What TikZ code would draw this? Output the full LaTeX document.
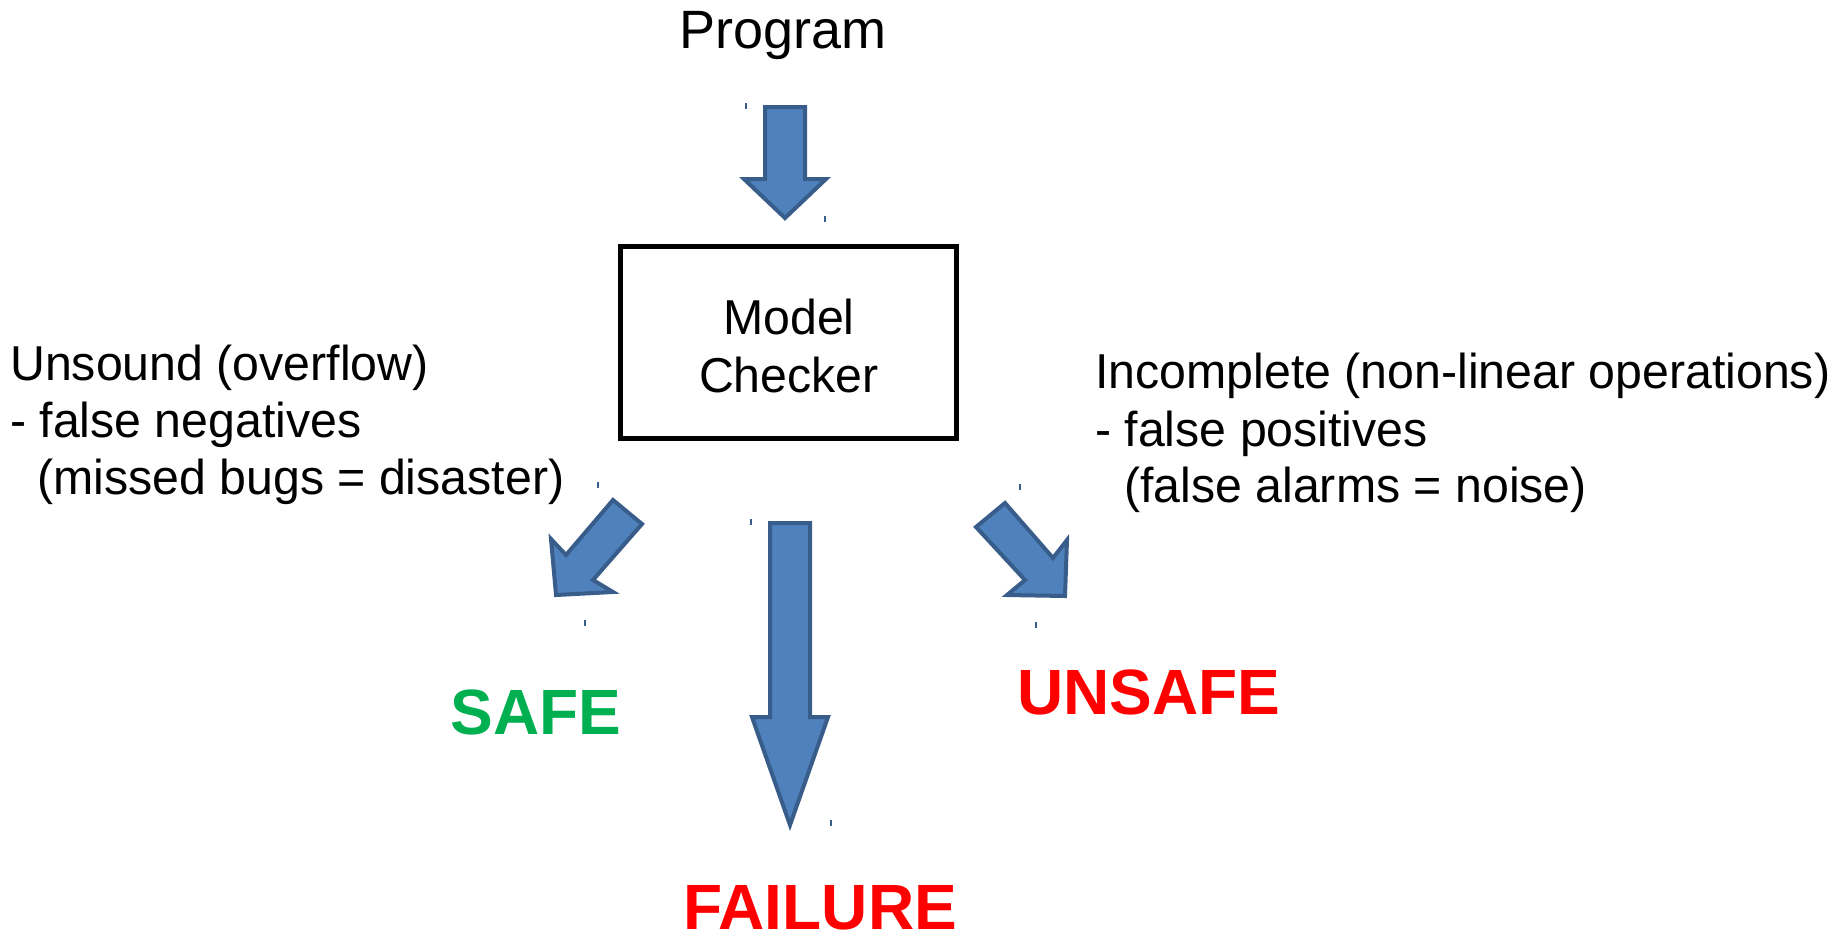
\documentclass[tikz,border=0pt]{standalone}
\usepackage{fontspec}
\setmainfont{Liberation Sans}
\newfontfamily\bodyfont[FakeStretch=0.985]{Liberation Sans}
\begin{document}
\begin{tikzpicture}[x=1pt,y=-1pt,
  blockarrow/.style={fill=arrowfill,draw=arrowline,line width=4pt,line join=miter,miter limit=10},
  handlemark/.style={draw=arrowline,line width=1.2pt},
  bodytext/.style={inner sep=0pt,font=\bodyfont\fontsize{49}{57}\selectfont},
  verdict/.style={inner sep=0pt,font=\fontsize{64}{70}\selectfont\bfseries},
  checkerbox/.style={draw=black,line width=5pt,minimum width=336pt,minimum height=192pt,
    inner sep=0pt}]
\definecolor{arrowfill}{HTML}{4F81BD}
\definecolor{arrowline}{HTML}{385D8A}
\definecolor{safegreen}{HTML}{00B050}
\definecolor{alertred}{HTML}{FF0000}
\useasboundingbox (0,0) rectangle (1846,940);

% input label and the checker box
\node[inner sep=0pt,font=\fontsize{54}{60}\selectfont,anchor=base] (program) at (783,48) {Program};
\node[checkerbox] (checker) at (788.5,342.5) {};
\node[inner sep=0pt,align=center,font=\bodyfont\fontsize{49}{58}\selectfont] (checkertext) at (789,346) {Model\\Checker};

% side remarks
\node[bodytext,anchor=base west] (uns1) at (10,380) {Unsound (overflow)};
\node[bodytext,anchor=base west] (uns2) at (10,437) {- false negatives};
\node[bodytext,anchor=base west] (uns3) at (37,494) {(missed bugs = disaster)};
\node[bodytext,anchor=base west] (inc1) at (1095,388) {Incomplete (non-linear operations)};
\node[bodytext,anchor=base west] (inc2) at (1095,446) {- false positives};
\node[bodytext,anchor=base west] (inc3) at (1124,502) {(false alarms = noise)};

% outcomes
\node[verdict,text=safegreen] (safe) at (536,712) {SAFE};
\node[verdict,text=alertred] (unsafe) at (1149,692) {UNSAFE};
\node[verdict,text=alertred] (failure) at (820,908) {FAILURE};

% block arrows
\draw[blockarrow] (765,107) -- (805,107) -- (805,179) -- (826,179) -- (785,218)
  -- (744,179) -- (765,179) -- cycle;
\draw[blockarrow] (770,523) -- (810,523) -- (810,717) -- (828,717) -- (790,825)
  -- (752,717) -- (770,717) -- cycle;
\draw[blockarrow] (613,500) -- (642,524) -- (593,580) -- (613,592) -- (556,595)
  -- (551,539) -- (566,555) -- cycle;
\draw[blockarrow] (976,527) -- (1005,503) -- (1053,558) -- (1067,540) -- (1065,596)
  -- (1007,595) -- (1025,580) -- cycle;

% selection handle marks
\foreach \hx/\hy in {746/106,825/219,598/485,585/623,751/522,831/823,1020/487,1036/625}
  \draw[handlemark] (\hx,\hy-3) -- (\hx,\hy+3);
\end{tikzpicture}
\end{document}
